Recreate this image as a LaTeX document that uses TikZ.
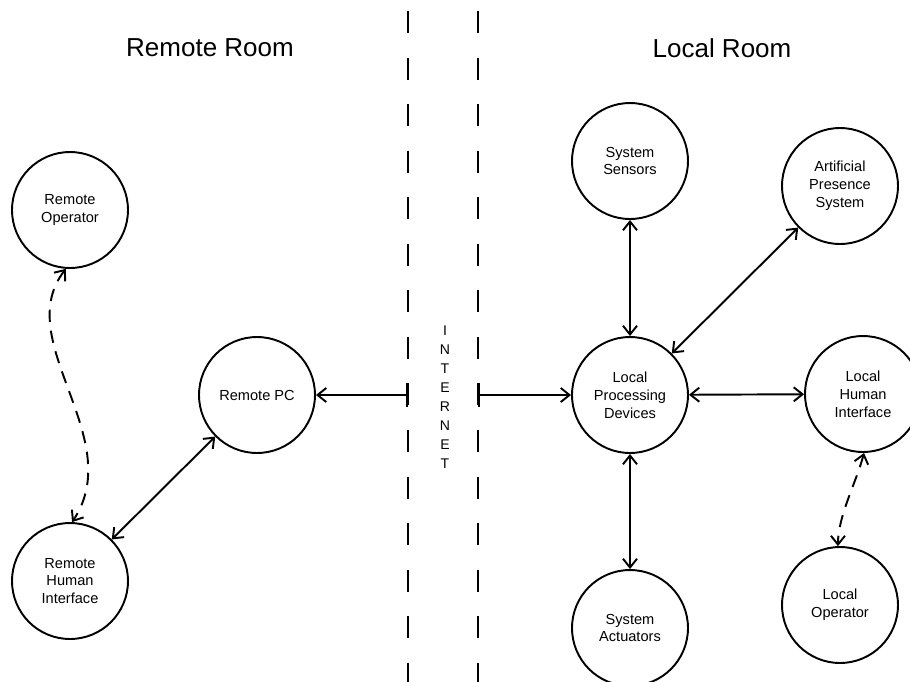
\documentclass[tikz,border=0pt]{standalone}
\usepackage{fontspec}
\setmainfont{Liberation Sans}
\usetikzlibrary{arrows.meta}

\begin{document}
\begin{tikzpicture}[x=0.02cm, y=-0.02cm,
		unit/.style={draw, circle, line width=1.1pt, minimum size=2.32cm, inner sep=0pt, align=center, font=\fontsize{8.3}{10.2}\selectfont},
		twoway/.style={line width=1.1pt, {Straight Barb[length=5pt,width=8pt]}-{Straight Barb[length=5pt,width=8pt]}},
		dashway/.style={twoway, dash pattern=on 7pt off 5pt},
		netline/.style={line width=1.5pt, dash pattern=on 12.5pt off 14pt},
		netarrow/.style={line width=1.1pt, {Bar[width=13.6pt]}-{Straight Barb[length=5pt,width=8pt]}},
		roomtitle/.style={font=\fontsize{14.8}{18}\selectfont}]
		\clip (0,0) rectangle (910,681);

		\node[roomtitle] (remoteroom) at (210,48) {Remote Room};
		\node[roomtitle] (localroom) at (722,48) {Local Room};

		\draw[netline] (408,11) -- (408,690);
		\draw[netline] (478,11) -- (478,690);
		\node[font=\fontsize{8}{10.8}\selectfont, align=center] (net) at (445,397) {I\\N\\T\\E\\R\\N\\E\\T};
		\coordinate (netL) at (408,395);
		\coordinate (netR) at (478,395);

		\node[unit] (ro) at (70,210) {Remote\\Operator};
		\node[unit] (rpc) at (257,395) {Remote PC};
		\node[unit] (rhi) at (70,581) {Remote\\Human\\Interface};

		\node[unit] (ss) at (630,161) {System\\Sensors};
		\node[unit] (aps) at (840,186) {Artificial\\Presence\\System};
		\node[unit] (lpd) at (630,395) {Local\\Processing\\Devices};
		\node[unit] (lhi) at (863,394) {Local\\Human\\Interface};
		\node[unit] (sa) at (630,628) {System\\Actuators};
		\node[unit] (lo) at (840,605) {Local\\Operator};

		\draw[dashway] (ro.-94) .. controls +(-56,72) and +(56,-84) .. (rhi.88);
		\draw[twoway] (rhi) -- (rpc);
		\draw[netarrow] (netL) -- (rpc);
		\draw[netarrow] (netR) -- (lpd);

		\draw[twoway] (lpd) -- (ss);
		\draw[twoway] (lpd) -- (aps);
		\draw[twoway] (lpd) -- (lhi);
		\draw[twoway] (lpd) -- (sa);
		\draw[dashway] (lhi.-89) .. controls +(-8,30) and +(0,-30) .. (lo.92);
	\end{tikzpicture}
\end{document}
